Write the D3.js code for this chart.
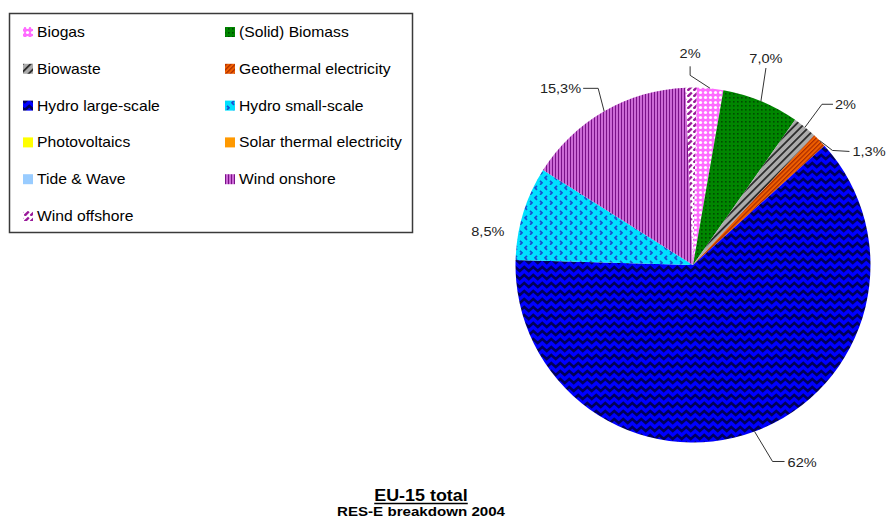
<!DOCTYPE html>
<html>
<head>
<meta charset="utf-8">
<script src="https://cdn.jsdelivr.net/npm/d3@7"></script>
<style>
  html, body { margin: 0; padding: 0; background: #fff; }
  svg { display: block; }
</style>
</head>
<body>
<svg id="chart" width="887" height="524"></svg>
<script>
// RES-E breakdown for EU-15, 2004 (share of renewable electricity, %)
const categories = [
  "Biogas", "(Solid) Biomass", "Biowaste", "Geothermal electricity",
  "Hydro large-scale", "Hydro small-scale", "Photovoltaics",
  "Solar thermal electricity", "Tide & Wave", "Wind onshore", "Wind offshore"
];
const shares = [2.4, 7.0, 2.2, 1.3, 62.0, 8.5, 0, 0, 0, 15.3, 1.0];
// decimals shown in each slice label (null = no label)
const labelDecimals = [0, 1, 0, 1, 0, 1, null, null, null, 1, null];
const titleText = "EU-15 total";
const subtitleText = "RES-E breakdown 2004";

const FONT = "'Liberation Sans', Arial, Helvetica, sans-serif";
const SX = 1.12; // horizontal text stretch

const svg = d3.select("#chart");
svg.append("rect").attr("width", 887).attr("height", 524).attr("fill", "#fff");
const defs = svg.append("defs");

// ---- fill patterns, one per category ----
function pattern(id, w, h, bg, draw, transform) {
  const p = defs.append("pattern")
    .attr("id", id)
    .attr("patternUnits", "userSpaceOnUse")
    .attr("width", w).attr("height", h);
  if (transform) p.attr("patternTransform", transform);
  p.append("rect").attr("width", w).attr("height", h).attr("fill", bg);
  if (draw) draw(p);
  return `url(#${id})`;
}

const fills = [
  // Biogas: pink lattice with white holes
  pattern("pat-biogas", 5, 5, "#ff6cff", p => {
    p.append("circle").attr("cx", 2.5).attr("cy", 2.5).attr("r", 1.6).attr("fill", "#fff");
  }),
  // Biomass: green with dark dots
  pattern("pat-biomass", 4, 4, "#008600", p => {
    p.append("rect").attr("width", 1.6).attr("height", 1.6).attr("fill", "#004a00");
  }),
  // Biowaste: grey with dark diagonal bands
  pattern("pat-biowaste", 5.5, 5.5, "#ababab", p => {
    p.append("rect").attr("width", 1.8).attr("height", 5.5).attr("fill", "#2c2c2c");
  }, "rotate(45)"),
  // Geothermal: orange with dark red diagonal stripes
  pattern("pat-geo", 3.2, 3.2, "#f06000", p => {
    p.append("rect").attr("width", 1.2).attr("height", 3.2).attr("fill", "#a82a00");
  }, "rotate(45)"),
  // Hydro large-scale: blue with navy zigzags
  pattern("pat-hydrol", 9, 8, "#0000ff", p => {
    p.append("path").attr("d", "M-2.25,6 L2.25,2 L6.75,6 L11.25,2")
      .attr("fill", "none").attr("stroke", "#00005a").attr("stroke-width", 2.5);
  }),
  // Hydro small-scale: cyan with blue chevrons
  pattern("pat-hydros", 10, 10, "#00e1ff", p => {
    p.append("path").attr("d", "M4,0.8 L2,2.8 L4,4.8")
      .attr("fill", "none").attr("stroke", "#1a4fd0").attr("stroke-width", 1.7);
    p.append("path").attr("d", "M7,5.8 L9,7.8 L7,9.8")
      .attr("fill", "none").attr("stroke", "#1a4fd0").attr("stroke-width", 1.7);
  }),
  "#ffff00", // Photovoltaics
  "#ff9900", // Solar thermal electricity
  "#99ccff", // Tide & Wave
  // Wind onshore: orchid with dark purple verticals
  pattern("pat-windon", 3, 3, "#cc6ad6", p => {
    p.append("rect").attr("width", 1).attr("height", 3).attr("fill", "#7a1288");
  }),
  // Wind offshore: white with purple dashes
  pattern("pat-windoff", 6, 6, "#ffffff", p => {
    p.append("path").attr("d", "M0.5,5.8 L4.8,1.5")
      .attr("stroke", "#9a1a9a").attr("stroke-width", 2.4).attr("stroke-linecap", "butt");
  })
];

// ---- text helper with horizontal stretch ----
function label(parent, x, y, str, o) {
  const g = parent.append("g").attr("transform", `translate(${x},${y}) scale(${SX},1)`);
  const t = g.append("text").text(str)
    .attr("font-family", FONT)
    .attr("font-size", o.size)
    .attr("text-anchor", o.anchor || "start")
    .attr("fill", o.fill || "#000");
  if (o.weight) t.attr("font-weight", o.weight);
  return t;
}

// ---- pie ----
const cx = 693, cy = 265, R = 177.5;
const rotation = 1.2 * Math.PI / 180;
const data = categories.map((c, i) => ({ name: c, value: shares[i], i }));

const pie = d3.pie().sort(null).value(d => d.value)
  .startAngle(rotation).endAngle(rotation + 2 * Math.PI);
const arcs = pie(data);
const arc = d3.arc().innerRadius(0).outerRadius(R);
const edge = d3.arc().innerRadius(R).outerRadius(R);

const gPie = svg.append("g").attr("transform", `translate(${cx},${cy})`);
gPie.selectAll("path.slice")
  .data(arcs.filter(a => a.data.value > 0))
  .join("path")
  .attr("class", "slice")
  .attr("d", arc)
  .attr("fill", d => fills[d.data.i]);

// ---- slice labels with leader lines (offsets from the slice's rim point) ----
const labelLayout = {
  0: { text: [-20, -30], anchor: "middle", leader: [[-20, -13], [-20, -22]] },
  1: { text: [5, -38], anchor: "middle", leader: [[5, -33]] },
  2: { text: [30, -18], anchor: "start", leader: [[17, -23], [28, -23]] },
  3: { text: [33, 16], anchor: "start", leader: [[13, 10], [30, 11]] },
  4: { text: [33, 36], anchor: "start", leader: [[18, 30], [30, 30]] },
  5: { text: [-52, 23], anchor: "start", leader: [] },
  9: { text: [-23, -18], anchor: "end", leader: [[-6, -23], [-21, -23]] }
};
const fmt = (v, dec) => v.toFixed(dec).replace(".", ",") + "%";

const gLab = svg.append("g");
arcs.forEach(a => {
  const i = a.data.i;
  const lay = labelLayout[i];
  if (!lay || labelDecimals[i] == null) return;
  const [ex, ey] = edge.centroid(a);
  const px = cx + ex, py = cy + ey;
  if (lay.leader.length) {
    const pts = [[px, py]].concat(lay.leader.map(([dx, dy]) => [px + dx, py + dy]));
    gLab.append("path")
      .attr("d", d3.line()(pts))
      .attr("fill", "none").attr("stroke", "#333").attr("stroke-width", 1);
  }
  label(gLab, px + lay.text[0], py + lay.text[1], fmt(a.data.value, labelDecimals[i]),
    { size: 13, anchor: lay.anchor, fill: "#222" });
});

// ---- legend ----
const gLeg = svg.append("g");
gLeg.append("rect")
  .attr("x", 9.5).attr("y", 13.5).attr("width", 403).attr("height", 219)
  .attr("fill", "#fff").attr("stroke", "#3a3a3a").attr("stroke-width", 1.5);

const colX = [23, 225];
const rowY0 = 32, rowStep = 36.8;
categories.forEach((c, i) => {
  const col = i % 2, row = Math.floor(i / 2);
  const x = colX[col], y = rowY0 + row * rowStep;
  gLeg.append("rect")
    .attr("x", x).attr("y", y - 5).attr("width", 10).attr("height", 10)
    .attr("fill", fills[i]);
  label(gLeg, x + 14, y + 5, c, { size: 14, fill: "#000" });
});

// ---- titles ----
const tx = 421;
const t1 = label(svg, tx, 501, titleText, { size: 16, weight: "bold", anchor: "middle" });
const w1 = t1.node().getComputedTextLength() * SX;
svg.append("line")
  .attr("x1", tx - w1 / 2).attr("x2", tx + w1 / 2)
  .attr("y1", 503.5).attr("y2", 503.5)
  .attr("stroke", "#000").attr("stroke-width", 1.3);
label(svg, tx, 516, subtitleText, { size: 13.5, weight: "bold", anchor: "middle" });
</script>
</body>
</html>
